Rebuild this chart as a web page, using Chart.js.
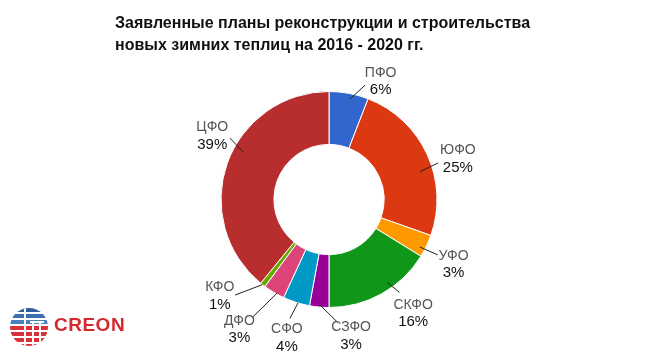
<!DOCTYPE html>
<html>
<head>
<meta charset="utf-8">
<script src="https://cdn.jsdelivr.net/npm/chart.js@4/dist/chart.umd.min.js"></script>
<style>
  html, body { margin: 0; padding: 0; background: #fff; }
  #wrap { position: relative; width: 662px; height: 354px; overflow: hidden; }
  #title { position: absolute; left: 115px; top: 12px; font: bold 16px "Liberation Sans", Arial, sans-serif; line-height: 22px; color: #111; white-space: nowrap; }
  #logo { position: absolute; left: 8px; top: 307px; width: 44px; height: 40px; }
  #logotext { position: absolute; left: 54px; top: 314px; font: bold 19px "Liberation Sans", Arial, sans-serif; color: #d42a2f; letter-spacing: 0.5px; }
  canvas { position: absolute; left: 0; top: 0; }
</style>
</head>
<body>
<div id="wrap">
  <canvas id="c" width="662" height="354"></canvas>
  <div id="title">Заявленные планы реконструкции и строительства<br>новых зимних теплиц на 2016 - 2020 гг.</div>
  <svg id="logo" viewBox="0 0 44 40">
    <defs><clipPath id="cp"><circle cx="21" cy="20" r="19"/></clipPath></defs>
    <g clip-path="url(#cp)">
      <rect x="0" y="0" width="44" height="40" fill="#fff"/>
      <rect x="0" y="1" width="44" height="4" fill="#2f5f9e"/>
      <rect x="0" y="7" width="44" height="4" fill="#3a6fb0"/>
      <rect x="0" y="13" width="44" height="4" fill="#4a7fc0"/>
      <rect x="0" y="19" width="44" height="4" fill="#d9303a"/>
      <rect x="0" y="25" width="44" height="4" fill="#d9303a"/>
      <rect x="0" y="31" width="44" height="4" fill="#d9303a"/>
      <rect x="0" y="37" width="44" height="4" fill="#d9303a"/>
      <rect x="16" y="0" width="2" height="40" fill="#fff"/>
      <rect x="24" y="14" width="2" height="26" fill="#fff"/>
      <rect x="31" y="14" width="2" height="26" fill="#fff"/>
      <rect x="22" y="14" width="14" height="2" fill="#fff"/>
    </g>
  </svg>
  <div id="logotext">CREON</div>
</div>
<script>
// ---- data ----
const categories = ["ПФО", "ЮФО", "УФО", "СКФО", "СЗФО", "СФО", "ДФО", "КФО", "ЦФО"];
const shares = [5.9, 24.5, 3.4, 16.2, 2.9, 4.0, 3.2, 0.8, 39.1];
const colors = ["#3366cc", "#dc3912", "#ff9900", "#109618", "#990099", "#0099c6", "#dd4477", "#66aa00", "#b82e2e"];

// ---- label layout (style): polar placement relative to outer radius ----
// [labelAngleDeg, labelRadiusFactor, lineStartAngleDeg, lineStartFactor, lineEndAngleDeg, lineEndFactor]
const labelLayout = [
  [23.7, 1.19, 11.8, 0.95, 17.5, 1.11],
  [72.6, 1.25, 73.0, 0.88, 71.5, 1.065],
  [117.5, 1.30, 117.6, 0.95, 117, 1.13],
  [143.5, 1.31, 144.9, 0.94, 142.8, 1.08],
  [170.8, 1.28, 184.9, 0.98, 176, 1.14],
  [196.9, 1.34, 196.7, 1.0, 198.2, 1.16],
  [214.6, 1.46, 209.0, 0.99, 213, 1.30],
  [228.5, 1.35, 218.0, 1.0, 224.5, 1.24],
  [298.5, 1.23, 299.0, 0.91, 301.8, 1.08]
];

const outLabels = {
  id: 'outLabels',
  afterDatasetsDraw(chart) {
    const ctx = chart.ctx;
    const meta = chart.getDatasetMeta(0);
    const total = shares.reduce((a, b) => a + b, 0);
    ctx.save();
    meta.data.forEach((arc, i) => {
      const p = arc.getProps(['x', 'y', 'outerRadius'], true);
      const R = p.outerRadius;
      const L = labelLayout[i];
      const pol = (degFromTop, r) => {
        const a = degFromTop * Math.PI / 180 - Math.PI / 2;
        return [p.x + r * Math.cos(a), p.y + r * Math.sin(a)];
      };
      const [sx, sy] = pol(L[2], L[3] * R);
      const [ex, ey] = pol(L[4], L[5] * R);
      ctx.strokeStyle = '#222';
      ctx.lineWidth = 1;
      ctx.beginPath();
      ctx.moveTo(sx, sy);
      ctx.lineTo(ex, ey);
      ctx.stroke();
      const [lx, ly] = pol(L[0], L[1] * R);
      ctx.textAlign = 'center';
      ctx.textBaseline = 'middle';
      ctx.font = '14px "Liberation Sans", Arial, sans-serif';
      ctx.fillStyle = '#555';
      ctx.fillText(categories[i], lx, ly - 8.5);
      ctx.font = '15px "Liberation Sans", Arial, sans-serif';
      ctx.fillStyle = '#111';
      ctx.fillText(Math.round(shares[i] / total * 100) + '%', lx, ly + 8.5);
    });
    ctx.restore();
  }
};

new Chart(document.getElementById('c'), {
  type: 'doughnut',
  data: {
    labels: categories,
    datasets: [{
      data: shares,
      backgroundColor: colors,
      borderColor: '#ffffff',
      borderWidth: 1
    }]
  },
  options: {
    responsive: false,
    animation: false,
    cutout: '51%',
    layout: { padding: { top: 91, bottom: 46, left: 100, right: 104 } },
    plugins: {
      legend: { display: false },
      tooltip: { enabled: false },
      title: { display: false }
    }
  },
  plugins: [outLabels]
});
</script>
</body>
</html>
